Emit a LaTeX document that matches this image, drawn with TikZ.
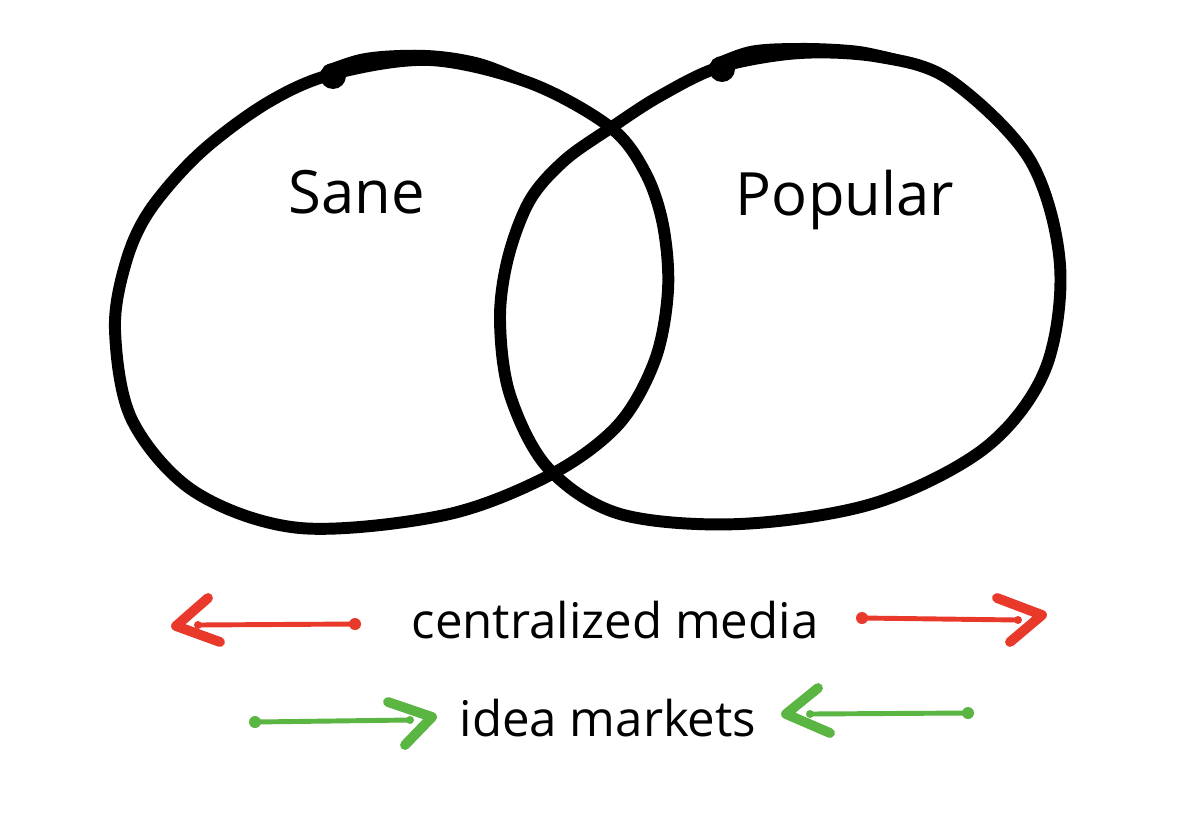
\documentclass[tikz,border=0pt]{standalone}
\usepackage{fontspec}
\setmainfont{Open Sans}
\begin{document}
\begin{tikzpicture}[x=0.02cm,y=-0.02cm,
  ring/.style={line width=6.8pt,line join=round,line cap=round},
  shaft/.style={line width=2.8pt,line cap=round},
  headline/.style={line width=5.6pt,line cap=round,line join=round},
  lbl/.style={font=\fontsize{34}{40}\selectfont,inner sep=0pt},
  lbls/.style={font=\fontsize{28}{34}\selectfont,inner sep=0pt}]
\definecolor{penred}{HTML}{E8392A}
\definecolor{pengreen}{HTML}{5BB543}
\useasboundingbox[fill=white] (0,0) rectangle (1200,825);
% left circle
\draw[ring] plot[smooth cycle,tension=0.55] coordinates {
 (333,74) (430,60) (530,83) (610,127) (645,172) (663,225) (668,290)
 (655,360) (618,425) (550,475) (445,515) (300,528) (195,492) (132,420)
 (115,330) (126,262) (150,210) (200,153) (267,103)};
\fill plot[smooth,tension=0.6] coordinates {(324,66) (360,54) (400,50) (440,51) (480,58) (515,71) (540,82)}
  -- plot[smooth,tension=0.6] coordinates {(540,92) (515,82) (480,72) (440,64) (400,64) (360,68) (335,79)} -- cycle;
\fill (333,76) circle (13);
% right circle
\draw[ring] plot[smooth cycle,tension=0.55] coordinates {
 (720,67) (800,53) (880,57) (950,80) (1030,160) (1060,265) (1045,370) (985,448)
 (875,503) (740,524) (620,514) (548,468) (510,395) (500,320) (508,258)
 (530,200) (565,160) (612,127) (660,96)};
\fill plot[smooth,tension=0.6] coordinates {(712,60) (750,46) (800,43) (850,45) (880,50) (910,58) (935,68)}
  -- plot[smooth,tension=0.6] coordinates {(935,77) (910,66) (880,60) (850,57) (800,56) (760,60) (725,72)} -- cycle;
\fill (722,69) circle (13);
% labels
\node[lbl] (sane) at (357,192) {Sane};
\node[lbl] (pop) at (845,200) {Popular};
\node[lbls] (cm) at (615,620) {centralized media};
\node[lbls] (im) at (608,718) {idea markets};
% red arrows
\coordinate (r1s) at (355,624); \coordinate (r1e) at (198,625); \coordinate (r1t) at (176,626);
\coordinate (r1a) at (208,598); \coordinate (r1b) at (220,642);
\draw[penred,shaft] (r1s) -- (r1e);
\fill[penred] (r1s) circle (6); \fill[penred] (r1e) circle (4);
\draw[penred,headline] (r1a) -- (r1t) -- (r1b);
\coordinate (r2s) at (862,618); \coordinate (r2e) at (1018,620); \coordinate (r2t) at (1042,615);
\coordinate (r2a) at (997,598); \coordinate (r2b) at (1010,642);
\draw[penred,shaft] (r2s) -- (r2e);
\fill[penred] (r2s) circle (6); \fill[penred] (r2e) circle (4);
\draw[penred,headline] (r2a) -- (r2t) -- (r2b);
% green arrows
\coordinate (g1s) at (255,722); \coordinate (g1e) at (410,720); \coordinate (g1t) at (432,717);
\coordinate (g1a) at (388,702); \coordinate (g1b) at (405,745);
\draw[pengreen,shaft] (g1s) -- (g1e);
\fill[pengreen] (g1s) circle (6); \fill[pengreen] (g1e) circle (4);
\draw[pengreen,headline] (g1a) -- (g1t) -- (g1b);
\coordinate (g2s) at (968,713); \coordinate (g2e) at (810,714); \coordinate (g2t) at (786,714);
\coordinate (g2a) at (818,688); \coordinate (g2b) at (830,733);
\draw[pengreen,shaft] (g2s) -- (g2e);
\fill[pengreen] (g2s) circle (6); \fill[pengreen] (g2e) circle (4);
\draw[pengreen,headline] (g2a) -- (g2t) -- (g2b);
\end{tikzpicture}
\end{document}
